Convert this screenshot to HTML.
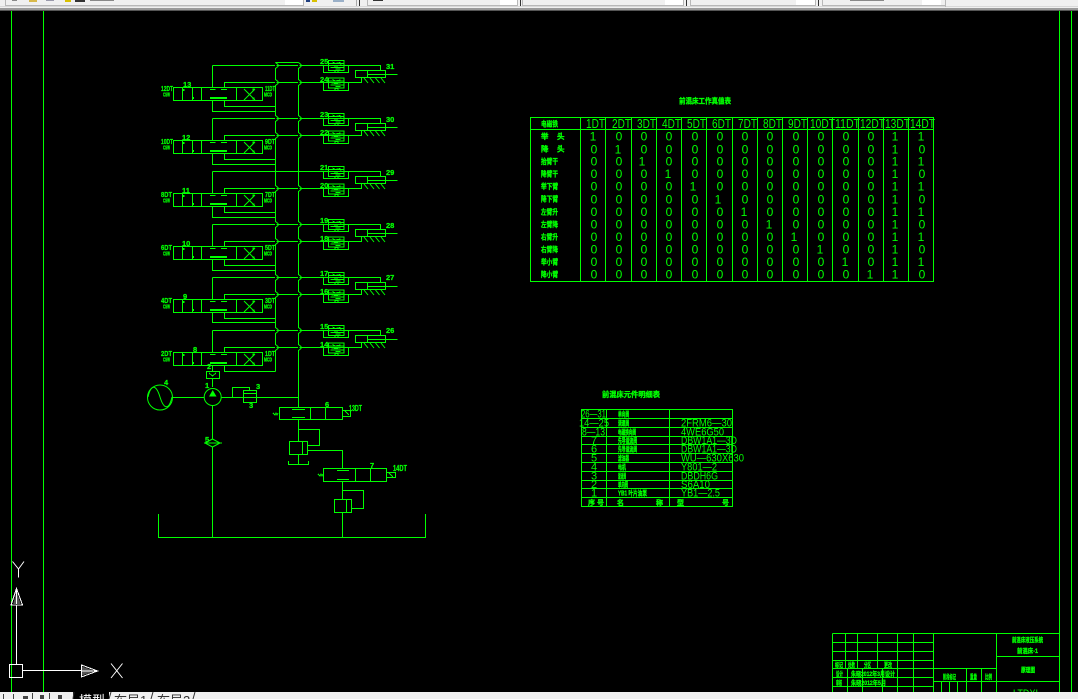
<!DOCTYPE html>
<html><head><meta charset="utf-8"><title>Hydraulic diagram</title>
<style>
html,body{margin:0;padding:0;background:#000;width:1078px;height:699px;overflow:hidden}
svg{display:block}
text{font-family:"Liberation Sans","Noto Sans CJK SC",sans-serif;fill:#0f0}
.g{fill:none;stroke:#0f0;stroke-width:1;shape-rendering:crispEdges}
.d{fill:none;stroke:#0f0;stroke-width:1}
.l{font-size:7.5px;font-weight:bold;stroke:#0f0;stroke-width:.25}
.c{font-size:7.5px;font-weight:bold;stroke:#0f0;stroke-width:.35}
.s{font-size:5.5px;font-weight:bold;stroke:#0f0;stroke-width:.3}
.t{font-size:12px;text-anchor:middle}
.h{font-size:12.5px}
.m{font-size:11px}
</style></head><body>
<svg width="1078" height="699" viewBox="0 0 1078 699" xmlns="http://www.w3.org/2000/svg">
<defs>
<g id="sv">
<rect x="0" y="0" width="15.5" height="10" class="g"/>
<path d="M0 3H15.5M2 7H15.5M4 1.5L7 3L12 2M3 5L8 5.5L13 4.5M7 8.5H12" class="g"/>
</g>
<g id="row">
<rect x="173.5" y="87.5" width="89" height="13" class="g"/>
<path d="M182.5 87.5V100.5M192.5 87.5V100.5M201.5 87.5V100.5M236.5 87.5V100.5" class="g"/>
<path d="M210 89.5H215.5M221 89.5H227M210 98.5H227M210 97.5H227" class="g"/>
<path d="M212.5 65.5V87.5M212.5 65.5H380.5V70.5M224.5 87.5V82.5H361.5V77.5" class="g"/>
<path d="M224.5 100.5V106.5H275.5" class="g"/>
<path d="M244 89L255 100M255 89L244 100" class="d"/>
<rect x="252.5" y="88.5" width="2" height="2" fill="#0f0"/><rect x="252.5" y="97.5" width="2" height="2" fill="#0f0"/>
<rect x="182.5" y="89" width="2" height="2" fill="#0f0"/><rect x="192" y="97" width="2" height="2" fill="#0f0"/>
<use href="#sv" x="328.5" y="60.5"/><use href="#sv" x="328.5" y="78"/>
<path d="M323.5 65.5V72.5H348.5V65.5M323.5 82.5V90.5H348.5V82.5M335 70.5h3v2h-3zM335 88.5h3v2h-3z" class="g"/>
<rect x="355.5" y="70.5" width="30" height="7" class="g"/>
<path d="M367.5 70.5V77.5M367.5 74.5H397.5" class="g"/>
<path d="M364 78L368 83M370 78L374 83M375.5 78L379.5 83M381 78L385 83" class="d"/>
</g>
<g id="ju"><rect x="275" y="63" width="1.5" height="5" fill="#000"/><rect x="298" y="63" width="1.5" height="5" fill="#000"/><path d="M275.5 62.5L278 64.5V66.5L275.5 68.5M298.5 62.5L301 64.5V66.5L298.5 68.5" class="d"/></g>
<g id="jl"><rect x="275" y="80" width="1.5" height="5" fill="#000"/><rect x="298" y="80" width="1.5" height="5" fill="#000"/><path d="M275.5 79.5L278 81.5V83.5L275.5 85.5M298.5 79.5L301 81.5V83.5L298.5 85.5" class="d"/></g>
</defs>

<rect width="1078" height="699" fill="#000"/>

<!-- frame -->
<path d="M11.5 11V692M43.5 11V692M1059.5 11V692M1071.5 11V692" class="g"/>

<!-- buses -->
<path d="M275.5 62.5V371.5M298.5 62.5V407.5M275.5 62.5H298.5" class="g"/>

<!-- rows -->
<use href="#row"/><use href="#row" y="53"/><use href="#row" y="106"/><use href="#row" y="159"/><use href="#row" y="212"/><use href="#row" y="265"/>
<path d="M212.5 100.5V111.5H275.5M212.5 153.5V164.5H275.5M212.5 206.5V217.5H275.5M212.5 259.5V270.5H275.5M212.5 312.5V322.5H275.5M212.5 365.5V371.5" class="g"/>
<use href="#ju"/><use href="#jl"/><use href="#ju" y="53"/><use href="#jl" y="53"/><use href="#jl" y="106"/><use href="#ju" y="159"/><use href="#jl" y="159"/><use href="#ju" y="212"/><use href="#jl" y="212"/><use href="#ju" y="265"/><use href="#jl" y="265"/>

<!-- row labels -->
<g class="l">
<text x="161" y="91" textLength="12" lengthAdjust="spacingAndGlyphs">12DT</text>
<text x="161" y="144" textLength="12" lengthAdjust="spacingAndGlyphs">10DT</text>
<text x="161" y="197" textLength="11" lengthAdjust="spacingAndGlyphs">8DT</text>
<text x="161" y="250" textLength="11" lengthAdjust="spacingAndGlyphs">6DT</text>
<text x="161" y="303" textLength="11" lengthAdjust="spacingAndGlyphs">4DT</text>
<text x="161" y="356" textLength="11" lengthAdjust="spacingAndGlyphs">2DT</text>
<text x="265" y="91" textLength="10" lengthAdjust="spacingAndGlyphs">11DT</text>
<text x="265" y="144" textLength="10" lengthAdjust="spacingAndGlyphs">9DT</text>
<text x="265" y="197" textLength="10" lengthAdjust="spacingAndGlyphs">7DT</text>
<text x="265" y="250" textLength="10" lengthAdjust="spacingAndGlyphs">5DT</text>
<text x="265" y="303" textLength="10" lengthAdjust="spacingAndGlyphs">3DT</text>
<text x="265" y="356" textLength="10" lengthAdjust="spacingAndGlyphs">1DT</text>
<text x="183" y="87">13</text><text x="182" y="140">12</text><text x="182" y="193">11</text><text x="182" y="246">10</text><text x="183" y="299">9</text><text x="193" y="352">8</text>
<text x="320" y="64">25</text><text x="320" y="82">24</text><text x="320" y="117">23</text><text x="320" y="135">22</text><text x="320" y="170">21</text><text x="320" y="188">20</text><text x="320" y="223">19</text><text x="320" y="241">18</text><text x="320" y="276">17</text><text x="320" y="294">16</text><text x="320" y="329">15</text><text x="320" y="347">14</text>
<text x="386" y="69">31</text><text x="386" y="122">30</text><text x="386" y="175">29</text><text x="386" y="228">28</text><text x="386" y="280">27</text><text x="386" y="333">26</text>
<text x="207" y="369">2</text>
</g>
<g class="s">
<text x="163" y="96.5" textLength="7" lengthAdjust="spacingAndGlyphs">CSW</text>
<text x="163" y="149.5" textLength="7" lengthAdjust="spacingAndGlyphs">CSW</text>
<text x="163" y="202.5" textLength="7" lengthAdjust="spacingAndGlyphs">CSW</text>
<text x="163" y="255.5" textLength="7" lengthAdjust="spacingAndGlyphs">CSW</text>
<text x="163" y="308.5" textLength="7" lengthAdjust="spacingAndGlyphs">CSW</text>
<text x="163" y="361.5" textLength="7" lengthAdjust="spacingAndGlyphs">CSW</text>
<text x="264" y="96.5" textLength="8" lengthAdjust="spacingAndGlyphs">MCD</text>
<text x="264" y="149.5" textLength="8" lengthAdjust="spacingAndGlyphs">MCD</text>
<text x="264" y="202.5" textLength="8" lengthAdjust="spacingAndGlyphs">MCD</text>
<text x="264" y="255.5" textLength="8" lengthAdjust="spacingAndGlyphs">MCD</text>
<text x="264" y="308.5" textLength="8" lengthAdjust="spacingAndGlyphs">MCD</text>
<text x="264" y="361.5" textLength="8" lengthAdjust="spacingAndGlyphs">MCD</text>
</g>

<!-- row 6 bottom line to check valve -->
<rect x="206.5" y="371.5" width="13" height="7" class="g"/>
<path d="M209 373L212.5 376L216 373M212.5 378.5V387" class="g"/>

<!-- motor, pump -->
<circle cx="160" cy="397.5" r="12.5" class="d"/>
<path d="M148 397C151 384 156 384 160 397C164 410 169 410 172 397" class="d"/>
<path d="M172.5 397.5H204.5M221.5 397.5H298.5" class="g"/>
<circle cx="212.7" cy="397" r="8.5" class="d"/>
<polygon points="209,396.5 216.5,396.5 212.7,390" fill="#0f0"/>
<path d="M212.5 405.5V439M212.5 447V537.5" class="g"/>
<path d="M205 443L212.5 439L220 443L212.5 447ZM204 443H222" class="d"/>
<rect x="243.5" y="390.5" width="13" height="12" class="g"/>
<path d="M243.5 393.5H256.5M232.5 397.5V387.5H249.5V390.5" class="g"/>
<g class="l"><text x="164" y="385">4</text><text x="205" y="388">1</text><text x="256" y="389">3</text><text x="249" y="408">3</text><text x="205" y="442">5</text></g>

<!-- valve 6 -->
<rect x="279.5" y="407.5" width="63" height="12" class="g"/>
<path d="M310.5 407.5V419.5M325.5 407.5V419.5M292 409.5H305M292 417.5H305M342.5 410.5H350.5V416.5H342.5M345 411L349 415M273 413l2 2l1-2l1 2l1-2" class="g"/>
<g class="l"><text x="325" y="407">6</text><text x="349" y="411" font-size="8" textLength="13" lengthAdjust="spacingAndGlyphs">13DT</text></g>
<path d="M298.5 419.5V441.5M298.5 429.5H319.5V445.5H307.5" class="g"/>
<rect x="289.5" y="441.5" width="18" height="13" class="g"/>
<path d="M302.5 441.5V454.5M298.5 454.5V464.5M288.5 461V464.5H308.5V461M307.5 450.5H342.5V468.5" class="g"/>

<!-- valve 7 -->
<rect x="323.5" y="468.5" width="63" height="13" class="g"/>
<path d="M355.5 468.5V481.5M370.5 468.5V481.5M337 470.5H349M337 479.5H349M386.5 472.5H395.5V477.5H386.5M389 473L393 477M318 474l2 2l1-2l1 2l1-2" class="g"/>
<g class="l"><text x="370" y="468">7</text><text x="393" y="471" font-size="8" textLength="14" lengthAdjust="spacingAndGlyphs">14DT</text></g>
<path d="M342.5 481.5V499.5M342.5 490.5H363.5V508.5H351.5" class="g"/>
<rect x="334.5" y="499.5" width="17" height="13" class="g"/>
<path d="M346.5 499.5V512.5M342.5 512.5V537.5" class="g"/>

<!-- tank -->
<path d="M158.5 514V537.5H425.5V514" class="g"/>

<!-- truth table -->
<text x="679" y="103.5" class="c" textLength="52" lengthAdjust="spacingAndGlyphs">前混床工作真值表</text>
<rect x="530.5" y="117.5" width="403" height="164" class="g"/>
<path d="M530.5 129.5H933.5M580.5 117.5V281.5M605.5 117.5V281.5M631.5 117.5V281.5M656.5 117.5V281.5M681.5 117.5V281.5M706.5 117.5V281.5M732.5 117.5V281.5M757.5 117.5V281.5M782.5 117.5V281.5M807.5 117.5V281.5M832.5 117.5V281.5M858.5 117.5V281.5M883.5 117.5V281.5M908.5 117.5V281.5" class="g"/>
<g class="h">
<text x="586" y="128" textLength="19" lengthAdjust="spacingAndGlyphs">1DT</text>
<text x="612" y="128" textLength="19" lengthAdjust="spacingAndGlyphs">2DT</text>
<text x="637" y="128" textLength="19" lengthAdjust="spacingAndGlyphs">3DT</text>
<text x="662" y="128" textLength="19" lengthAdjust="spacingAndGlyphs">4DT</text>
<text x="687" y="128" textLength="19" lengthAdjust="spacingAndGlyphs">5DT</text>
<text x="712" y="128" textLength="19" lengthAdjust="spacingAndGlyphs">6DT</text>
<text x="738" y="128" textLength="19" lengthAdjust="spacingAndGlyphs">7DT</text>
<text x="763" y="128" textLength="19" lengthAdjust="spacingAndGlyphs">8DT</text>
<text x="788" y="128" textLength="19" lengthAdjust="spacingAndGlyphs">9DT</text>
<text x="810" y="128" textLength="25" lengthAdjust="spacingAndGlyphs">10DT</text>
<text x="835" y="128" textLength="25" lengthAdjust="spacingAndGlyphs">11DT</text>
<text x="860" y="128" textLength="25" lengthAdjust="spacingAndGlyphs">12DT</text>
<text x="885" y="128" textLength="25" lengthAdjust="spacingAndGlyphs">13DT</text>
<text x="910" y="128" textLength="25" lengthAdjust="spacingAndGlyphs">14DT</text>
</g>
<g class="t">
<text y="140.5" x="593 619 644 669 695 720 745 770 796 821 846 871 895 921">10000000000011</text>
<text y="153.5" x="594 618 644 669 695 720 745 770 796 821 846 871 895 922">01000000000010</text>
<text y="165.5" x="594 619 642 669 695 720 745 770 796 821 846 871 895 921">00100000000011</text>
<text y="178" x="594 619 644 668 695 720 745 770 796 821 846 871 895 922">00010000000010</text>
<text y="190.5" x="594 619 644 669 693 720 745 770 796 821 846 871 895 921">00001000000011</text>
<text y="203.5" x="594 619 644 669 695 718 745 770 796 821 846 871 895 922">00000100000010</text>
<text y="216" x="594 619 644 669 695 720 744 770 796 821 846 871 895 921">00000010000011</text>
<text y="228.5" x="594 619 644 669 695 720 745 769 796 821 846 871 895 922">00000001000010</text>
<text y="241" x="594 619 644 669 695 720 745 770 794 821 846 871 895 921">00000000100011</text>
<text y="253.5" x="594 619 644 669 695 720 745 770 796 820 846 871 895 922">00000000010010</text>
<text y="266" x="594 619 644 669 695 720 745 770 796 821 845 871 895 921">00000000001011</text>
<text y="278.5" x="594 619 644 669 695 720 745 770 796 821 846 870 895 922">00000000000110</text>
</g>
<g class="c">
<text x="541" y="126.5" textLength="17" lengthAdjust="spacingAndGlyphs">电磁铁</text>
<text x="541 557" y="139">举头</text><text x="541 557" y="151.5">降头</text>
<text x="541" y="164" textLength="17" lengthAdjust="spacingAndGlyphs">抬臂干</text>
<text x="541" y="176.5" textLength="17" lengthAdjust="spacingAndGlyphs">降臂干</text>
<text x="541" y="189" textLength="17" lengthAdjust="spacingAndGlyphs">举下臂</text>
<text x="541" y="201.5" textLength="17" lengthAdjust="spacingAndGlyphs">降下臂</text>
<text x="541" y="214.5" textLength="17" lengthAdjust="spacingAndGlyphs">左臂升</text>
<text x="541" y="227" textLength="17" lengthAdjust="spacingAndGlyphs">左臂降</text>
<text x="541" y="239.5" textLength="17" lengthAdjust="spacingAndGlyphs">右臂升</text>
<text x="541" y="252" textLength="17" lengthAdjust="spacingAndGlyphs">右臂降</text>
<text x="541" y="264.5" textLength="17" lengthAdjust="spacingAndGlyphs">举小臂</text>
<text x="541" y="277" textLength="17" lengthAdjust="spacingAndGlyphs">降小臂</text>
</g>

<!-- component table -->
<text x="602" y="397" class="c" font-size="8" textLength="58" lengthAdjust="spacingAndGlyphs">前混床元件明细表</text>
<rect x="581.5" y="409.5" width="151" height="97" class="g"/>
<path d="M606.5 409.5V506.5M669.5 409.5V506.5M581.5 418.5H732.5M581.5 427.5H732.5M581.5 436.5H732.5M581.5 444.5H732.5M581.5 453.5H732.5M581.5 462.5H732.5M581.5 471.5H732.5M581.5 480.5H732.5M581.5 488.5H732.5M581.5 497.5H732.5" class="g"/>
<g class="m">
<text x="581" y="417.5" textLength="25" lengthAdjust="spacingAndGlyphs">26—31</text>
<text x="579" y="426.5" textLength="30" lengthAdjust="spacingAndGlyphs">14—25</text>
<text x="582" y="435.5" textLength="23" lengthAdjust="spacingAndGlyphs">8—13</text>
<text x="594" y="444" text-anchor="middle">7</text><text x="594" y="452.5" text-anchor="middle">6</text><text x="594" y="461.5" text-anchor="middle">5</text><text x="594" y="470.5" text-anchor="middle">4</text><text x="594" y="479.5" text-anchor="middle">3</text><text x="594" y="488" text-anchor="middle">2</text><text x="594" y="496.5" text-anchor="middle">1</text>
<text x="681" y="426.5" textLength="51" lengthAdjust="spacingAndGlyphs">2FRM6—30</text>
<text x="681" y="435.5" textLength="43" lengthAdjust="spacingAndGlyphs">4WE6G50</text>
<text x="681" y="444" textLength="56" lengthAdjust="spacingAndGlyphs">DBW1A1—3D</text>
<text x="681" y="452.5" textLength="56" lengthAdjust="spacingAndGlyphs">DBW1A1—3D</text>
<text x="681" y="461.5" textLength="63" lengthAdjust="spacingAndGlyphs">WU—630X630</text>
<text x="681" y="470.5" textLength="36" lengthAdjust="spacingAndGlyphs">Y801—2</text>
<text x="681" y="479.5" textLength="37" lengthAdjust="spacingAndGlyphs">DBDH6G</text>
<text x="681" y="488" textLength="29" lengthAdjust="spacingAndGlyphs">S6A10</text>
<text x="681" y="496.5" textLength="39" lengthAdjust="spacingAndGlyphs">YB1—2.5</text>
</g>
<g class="c" style="font-size:7px">
<text x="618" y="416.5" textLength="11" lengthAdjust="spacingAndGlyphs">单向阀</text>
<text x="618" y="425.5" textLength="11" lengthAdjust="spacingAndGlyphs">调速阀</text>
<text x="618" y="434.5" textLength="18" lengthAdjust="spacingAndGlyphs">电磁换向阀</text>
<text x="618" y="443" textLength="19" lengthAdjust="spacingAndGlyphs">先导溢流阀</text>
<text x="618" y="451.5" textLength="19" lengthAdjust="spacingAndGlyphs">先导溢流阀</text>
<text x="618" y="460.5" textLength="11" lengthAdjust="spacingAndGlyphs">滤油器</text>
<text x="618" y="469.5" textLength="8" lengthAdjust="spacingAndGlyphs">电机</text>
<text x="618" y="478.5" textLength="8" lengthAdjust="spacingAndGlyphs">溢流阀</text>
<text x="618" y="487" textLength="10" lengthAdjust="spacingAndGlyphs">单向阀</text>
<text x="618" y="495.5" textLength="29" lengthAdjust="spacingAndGlyphs">YB1 叶片油泵</text>
<text x="588 597" y="505">序号</text>
<text x="617 656" y="505">名称</text>
<text x="677 722" y="505">型号</text>
</g>

<!-- title block -->
<path d="M832.5 633.5H1059.5M832.5 642.5H933.5M832.5 651.5H933.5M832.5 660.5H933.5M832.5 668.5H996.5M832.5 677.5H933.5M832.5 686.5H933.5M933.5 681.5H1059.5M996.5 656.5H1059.5M832.5 633.5V692M845.5 633.5V668.5M857.5 633.5V668.5M877.5 633.5V668.5M897.5 633.5V668.5M913.5 633.5V692M933.5 633.5V692M847.5 668.5V692M862.5 668.5V692M882.5 668.5V692M897.5 668.5V692M996.5 633.5V692M966.5 668.5V692M981.5 668.5V692M941.5 681.5V692M949.5 681.5V692M957.5 681.5V692" class="g"/>
<g class="s" style="font-size:6.5px">
<text x="835" y="667" textLength="8" lengthAdjust="spacingAndGlyphs">标记</text>
<text x="848" y="667" textLength="7" lengthAdjust="spacingAndGlyphs">处数</text>
<text x="864" y="667" textLength="7" lengthAdjust="spacingAndGlyphs">分区</text>
<text x="884" y="667" textLength="8" lengthAdjust="spacingAndGlyphs">更改</text>
<text x="836" y="676" textLength="7" lengthAdjust="spacingAndGlyphs">设计</text>
<text x="836" y="685" textLength="6" lengthAdjust="spacingAndGlyphs">审核</text>
<text x="851" y="676" textLength="44" lengthAdjust="spacingAndGlyphs">朱晓2012年3月设计</text>
<text x="851" y="685" textLength="35" lengthAdjust="spacingAndGlyphs">朱晓2012年5月</text>
<text x="943" y="679" textLength="13" lengthAdjust="spacingAndGlyphs">阶段标记</text>
<text x="970" y="679" textLength="7" lengthAdjust="spacingAndGlyphs">重量</text>
<text x="985" y="679" textLength="7" lengthAdjust="spacingAndGlyphs">比例</text>
<text x="1012" y="642" textLength="31" lengthAdjust="spacingAndGlyphs">前混床液压系统</text>
<text x="1017" y="653" textLength="21" lengthAdjust="spacingAndGlyphs">前混床-1</text>
<text x="1021" y="672" textLength="14" lengthAdjust="spacingAndGlyphs">原理图</text>
</g>
<clipPath id="cb"><rect x="1000" y="680" width="58" height="12"/></clipPath>
<text x="1013" y="697" font-size="11" textLength="25" lengthAdjust="spacingAndGlyphs" clip-path="url(#cb)">LTDXI</text>

<!-- UCS -->
<g fill="none" stroke="#fff" stroke-width="1" shape-rendering="crispEdges">
<rect x="9.5" y="664.5" width="13" height="13"/>
<path d="M16.5 664.5V605M22.5 670.5H81.5"/>
<path d="M11 605H22.5L16.5 588.5Z"/>
<path d="M81.5 665V677L97.5 671Z"/>
</g>
<path d="M13 605H21L16.5 591Z" fill="#555"/><path d="M82 666.5V675.5L95 671Z" fill="#555"/>
<path d="M16.5 604V589M82 671H96" stroke="#fff" stroke-width="1"/>
<path d="M12.5 561.5L18.5 569V577.5M24 561.5L18.5 569M111 663.5L122.5 678M122.5 663.5L111 678" fill="none" stroke="#fff" stroke-width="1"/>

<!-- top toolbar -->
<rect x="0" y="0" width="1078" height="11" fill="#f0f0f0"/>
<rect x="0" y="6" width="1078" height="1" fill="#d8d8d8"/>
<rect x="0" y="8" width="1078" height="2" fill="#9a9a9a"/>
<rect x="0" y="10" width="1078" height="1" fill="#555"/>
<g fill="#fff"><rect x="285" y="0" width="18" height="5"/><rect x="500" y="0" width="17" height="5"/><rect x="665" y="0" width="18" height="5"/><rect x="796" y="0" width="19" height="5"/><rect x="922" y="0" width="19" height="5"/></g>
<g fill="#b8b8b8"><rect x="5" y="0" width="1" height="6"/><rect x="303" y="0" width="1" height="6"/><rect x="5" y="5" width="299" height="1"/><rect x="367" y="0" width="1" height="6"/><rect x="517" y="0" width="1" height="6"/><rect x="367" y="5" width="151" height="1"/><rect x="522" y="0" width="1" height="6"/><rect x="683" y="0" width="1" height="6"/><rect x="522" y="5" width="162" height="1"/><rect x="690" y="0" width="1" height="6"/><rect x="815" y="0" width="1" height="6"/><rect x="690" y="5" width="126" height="1"/><rect x="822" y="0" width="1" height="6"/><rect x="945" y="0" width="1" height="7"/><rect x="822" y="5" width="124" height="1"/></g>
<g fill="#333"><rect x="75" y="0" width="10" height="2"/><rect x="373" y="0" width="10" height="1"/><rect x="90" y="0" width="24" height="1" fill="#888"/><rect x="359" y="0" width="1" height="6"/><rect x="356" y="0" width="1" height="6" fill="#aaa"/><rect x="520" y="0" width="1" height="6"/><rect x="686" y="0" width="1" height="6"/><rect x="818" y="0" width="1" height="6"/></g>
<g><rect x="29" y="0" width="8" height="2" fill="#d8b94a"/><rect x="65" y="0" width="6" height="2" fill="#d8c000"/><rect x="46" y="0" width="8" height="1" fill="#99a"/><rect x="12" y="0" width="5" height="1" fill="#888"/><rect x="306" y="0" width="4" height="2" fill="#204080"/><rect x="312" y="0" width="5" height="2" fill="#d8c000"/><rect x="333" y="0" width="11" height="2" fill="#9ab0c8"/><rect x="850" y="0" width="34" height="1" fill="#888"/></g>

<!-- bottom tabs -->
<rect x="0" y="692" width="1078" height="7" fill="#f0f0f0"/>
<rect x="73" y="692" width="36" height="7" fill="#000"/>
<g fill="#444"><rect x="3" y="694" width="1" height="5"/><rect x="13" y="694" width="1" height="5"/><rect x="23" y="696" width="5" height="3"/><rect x="40" y="695" width="4" height="4"/><rect x="58" y="695" width="4" height="4"/><rect x="32" y="693" width="1" height="6"/><rect x="49" y="693" width="1" height="6"/></g>
<text x="79" y="705" font-size="13" style="fill:#fff">模型</text>
<text x="114" y="705" font-size="13" style="fill:#333">布局1</text>
<text x="157" y="705" font-size="13" style="fill:#333">布局2</text>
<path d="M73 699L74 692M109 699L111 692M151 699L153 692M193 699L195 692" stroke="#333" stroke-width="1"/>
</svg>
</body></html>
